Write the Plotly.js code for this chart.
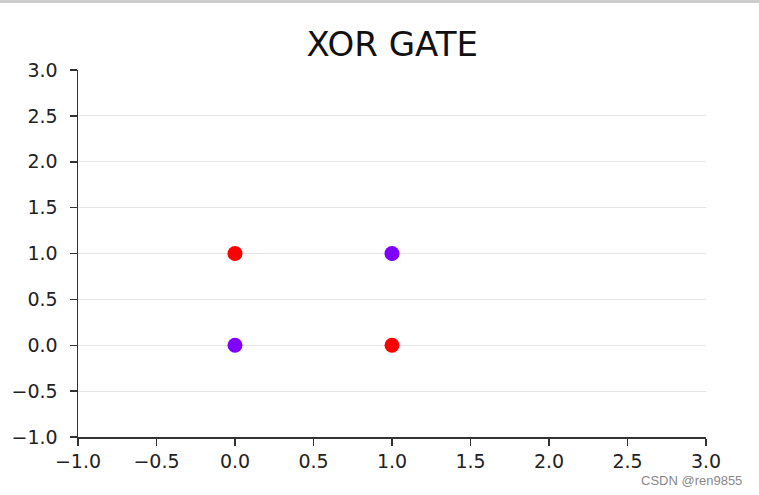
<!DOCTYPE html>
<html><head><meta charset="utf-8">
<script src="https://cdn.plot.ly/plotly-3.0.1.min.js"></script>
<style>html,body{margin:0;padding:0;background:#fff;}#chart{width:759px;height:495px;}</style>
</head><body><div id="chart"></div>
<script>
const xVals = [0, 0, 1, 1];
const yVals = [0, 1, 0, 1];
const labels = [0, 1, 1, 0];
const classColors = ['#8000ff', '#ff0000'];
const tickVals = [-1.0, -0.5, 0.0, 0.5, 1.0, 1.5, 2.0, 2.5, 3.0];

const trace = {
  x: xVals, y: yVals, mode: 'markers', type: 'scatter',
  marker: {size: 15, color: labels.map(l => classColors[l]), line: {width: 0}},
  hoverinfo: 'skip', cliponaxis: false
};
const tickFont = {family: 'DejaVu Sans', size: 19, color: '#222'};
const layout = {
  width: 759, height: 495,
  margin: {l: 78, r: 53, t: 70, b: 58},
  paper_bgcolor: '#fff', plot_bgcolor: '#fff',
  showlegend: false,
  title: {text: 'XOR GATE', x: 0.5167, xanchor: 'center', y: 0.911, yanchor: 'middle',
          font: {family: 'DejaVu Sans', size: 34, color: '#111'}},
  xaxis: {range: [-1, 3], tickvals: tickVals, tickformat: '.1f', showgrid: false, zeroline: false,
          showline: true, linecolor: '#333', linewidth: 1.5, ticks: 'outside', ticklen: 7,
          tickcolor: '#333', tickwidth: 1.5, tickfont: tickFont, fixedrange: true},
  yaxis: {range: [-1, 3], tickvals: tickVals, tickformat: '.1f', showgrid: true, gridcolor: '#e6e6e6',
          gridwidth: 1.2, zeroline: false, showline: true, linecolor: '#333', linewidth: 1.5,
          ticks: 'outside', ticklen: 7, tickcolor: '#333', tickwidth: 1.5, tickfont: tickFont,
          ticklabelstandoff: 8, fixedrange: true},
  shapes: [{type: 'rect', xref: 'paper', yref: 'paper', x0: -0.13, x1: 1.09, y0: 1.1826, y1: 1.195,
            fillcolor: '#cccccc', line: {width: 0}}],
  annotations: [{text: 'CSDN @ren9855', xref: 'paper', yref: 'paper', x: 1.0605, y: -0.1172,
                 xanchor: 'right', yanchor: 'middle', showarrow: false,
                 font: {family: 'Liberation Sans', size: 13, color: '#888'}}]
};
Plotly.newPlot('chart', [trace], layout, {displayModeBar: false, staticPlot: true});
</script></body></html>
